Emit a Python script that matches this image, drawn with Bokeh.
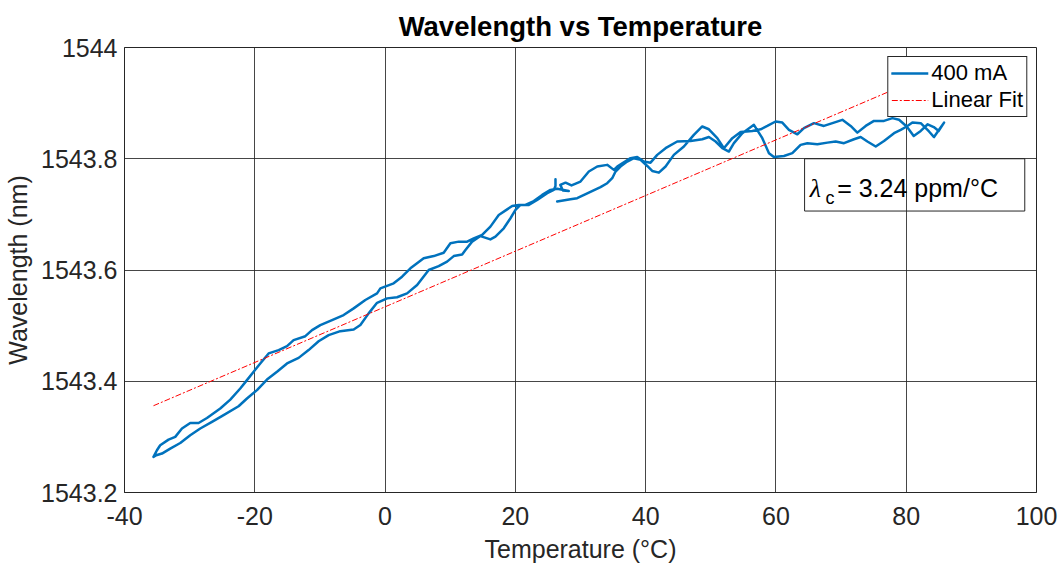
from bokeh.plotting import figure
from bokeh.models import Range1d, FixedTicker, Legend, LegendItem, BoxAnnotation, Label
from bokeh.embed import file_html
from bokeh.resources import INLINE

# ---- data (temperature in degC, wavelength in nm) ----
# first heating run (starts near 26 degC)
heat_T = [26.42, 28.46, 29.49, 31.28, 33.07, 34.10, 34.87, 35.38, 36.14, 37.17,
          38.19, 39.22, 40.25, 41.01, 42.03, 43.06, 44.33, 45.87, 47.40, 48.69,
          49.71, 51.00, 52.01, 53.30, 54.58, 56.38, 57.65, 58.68, 59.95, 60.98,
          62.00, 63.29, 64.30, 65.84, 67.37, 68.91, 70.20, 71.47, 72.50, 73.78,
          75.05, 76.59, 77.88, 78.90, 80.08, 81.15, 82.23, 83.30, 84.23, 84.99,
          85.81]
heat_wl = [1543.723, 1543.727, 1543.729, 1543.739, 1543.749, 1543.756, 1543.765, 1543.777, 1543.786, 1543.795,
           1543.801, 1543.798, 1543.787, 1543.778, 1543.775, 1543.786, 1543.807, 1543.822, 1543.843, 1543.858,
           1543.853, 1543.837, 1543.819, 1543.837, 1543.848, 1543.850, 1543.853, 1543.859, 1543.867, 1543.865,
           1543.852, 1543.844, 1543.855, 1543.864, 1543.859, 1543.865, 1543.870, 1543.859, 1543.847, 1543.859,
           1543.868, 1543.868, 1543.873, 1543.870, 1543.858, 1543.841, 1543.850, 1543.862, 1543.857, 1543.850,
           1543.865]
# cooling run down to -35 degC
cool_T = [85.04, 84.27, 83.50, 82.23, 80.95, 80.08, 79.15, 78.13, 76.59, 75.32,
          74.04, 73.01, 71.98, 70.45, 69.17, 67.90, 66.36, 64.82, 63.79, 62.52,
          61.23, 59.69, 58.93, 57.91, 56.62, 54.84, 53.55, 52.78, 51.77, 50.74,
          49.71, 48.69, 46.90, 44.85, 43.06, 41.78, 40.75, 39.72, 38.71, 37.68,
          36.41, 35.64, 35.12, 34.10, 32.57, 31.28, 30.00, 28.62, 27.70, 26.90,
          27.30, 28.20, 26.42, 25.39, 24.12, 22.83, 21.55, 20.52, 19.51, 18.74,
          17.45, 16.17, 14.90, 13.61, 12.60, 11.31, 10.03, 9.00, 7.47, 5.93,
          3.89, 2.61, 1.32, -0.72, -1.23, -3.03, -4.82, -6.36, -8.14, -9.94,
          -11.21, -12.24, -14.04, -15.05, -16.34, -17.88, -19.16, -20.18, -21.20, -22.23,
          -23.76, -25.30, -27.34, -28.63, -29.91, -31.18, -32.21, -33.24, -34.52, -35.02,
          -35.55]
cool_wl = [1543.852, 1543.839, 1543.849, 1543.864, 1543.865, 1543.858, 1543.852, 1543.846, 1543.832, 1543.822,
           1543.831, 1543.839, 1543.835, 1543.828, 1543.831, 1543.829, 1543.826, 1543.828, 1543.825, 1543.810,
           1543.805, 1543.803, 1543.810, 1543.837, 1543.861, 1543.846, 1543.828, 1543.813, 1543.819, 1543.831,
           1543.839, 1543.835, 1543.832, 1543.831, 1543.819, 1543.807, 1543.793, 1543.795, 1543.803, 1543.801,
           1543.792, 1543.786, 1543.780, 1543.789, 1543.786, 1543.777, 1543.759, 1543.752, 1543.757, 1543.753,
           1543.743, 1543.742, 1543.746, 1543.744, 1543.735, 1543.724, 1543.717, 1543.717, 1543.715, 1543.709,
           1543.699, 1543.678, 1543.663, 1543.657, 1543.651, 1543.651, 1543.648, 1543.631, 1543.625, 1543.621,
           1543.603, 1543.588, 1543.576, 1543.567, 1543.558, 1543.546, 1543.531, 1543.519, 1543.510, 1543.501,
           1543.492, 1543.481, 1543.474, 1543.463, 1543.456, 1543.450, 1543.432, 1543.417, 1543.402, 1543.387,
           1543.367, 1543.351, 1543.334, 1543.325, 1543.325, 1543.315, 1543.300, 1543.295, 1543.285, 1543.276,
           1543.264]
# second heating run back to ~26 degC
reheat_T = [-35.13, -34.25, -32.98, -31.44, -29.91, -28.37, -26.57, -24.79, -22.49, -21.20,
            -19.66, -18.13, -16.59, -15.05, -13.27, -11.74, -10.20, -8.66, -6.87, -4.82,
            -3.79, -2.52, -1.23, 0.31, 1.84, 3.38, 4.92, 6.70, 8.23, 9.52,
            10.54, 11.83, 12.34, 13.36, 14.64, 16.17, 16.94, 18.22, 19.25, 20.02,
            20.78, 22.06, 23.35, 24.89, 25.90, 26.16, 26.16]
reheat_wl = [1543.267, 1543.270, 1543.279, 1543.289, 1543.303, 1543.315, 1543.327, 1543.339, 1543.355, 1543.369,
             1543.384, 1543.403, 1543.417, 1543.432, 1543.442, 1543.456, 1543.472, 1543.483, 1543.490, 1543.493,
             1543.501, 1543.522, 1543.541, 1543.549, 1543.551, 1543.558, 1543.573, 1543.600, 1543.607, 1543.615,
             1543.625, 1543.628, 1543.636, 1543.651, 1543.661, 1543.655, 1543.660, 1543.675, 1543.693, 1543.708,
             1543.717, 1543.717, 1543.726, 1543.738, 1543.744, 1543.751, 1543.763]

temperature = heat_T + cool_T + reheat_T
wavelength = heat_wl + cool_wl + reheat_wl

# linear fit end points
fit_T = [-35.55, 85.81]
fit_wl = [1543.356, 1543.963]

x_ticks = [-40, -20, 0, 20, 40, 60, 80, 100]
x_tick_labels = ["-40", "-20", "0", "20", "40", "60", "80", "100"]
y_ticks = [1543.2, 1543.4, 1543.6, 1543.8, 1544.0]
y_tick_labels = ["1543.2", "1543.4", "1543.6", "1543.8", "1544"]

series_label = "400 mA"
fit_label = "Linear Fit"
coeff_text = "= 3.24 ppm/°C"

FONT = "Liberation Sans"
INK = "#262626"

p = figure(width=1064, height=565, output_backend="svg", toolbar_location=None,
           x_range=Range1d(-40, 100), y_range=Range1d(1543.2, 1544.0),
           min_border_left=124, min_border_right=28, min_border_top=47, min_border_bottom=73)
p.background_fill_color = "white"
p.border_fill_color = "white"
p.outline_line_color = INK
p.outline_line_width = 1
p.outline_line_alpha = 1

p.title.text = "Wavelength vs Temperature"
p.title.text_font = FONT
p.title.text_font_size = "27.5px"
p.title.text_font_style = "bold"
p.title.text_color = "black"
p.title.align = "center"
p.title.standoff = 12

p.xaxis.ticker = FixedTicker(ticks=x_ticks)
p.yaxis.ticker = FixedTicker(ticks=y_ticks)
p.xaxis.major_label_overrides = {t: s for t, s in zip(x_ticks, x_tick_labels)}
p.yaxis.major_label_overrides = {t: s for t, s in zip(y_ticks, y_tick_labels)}
for ax in (p.xaxis[0], p.yaxis[0]):
    ax.axis_line_color = INK
    ax.major_tick_line_color = INK
    ax.major_tick_in = 0
    ax.major_tick_out = 0
    ax.minor_tick_line_color = None
    ax.major_label_text_font = FONT
    ax.major_label_text_font_size = "25px"
    ax.major_label_text_color = INK
    ax.axis_label_text_font = FONT
    ax.axis_label_text_font_size = "25px"
    ax.axis_label_text_font_style = "normal"
    ax.axis_label_text_color = INK
p.xaxis.axis_label = "Temperature (°C)"
p.yaxis.axis_label = "Wavelength (nm)"
p.xaxis.major_label_standoff = 14
p.yaxis.major_label_standoff = 7
p.xaxis.axis_label_standoff = 7
p.yaxis.axis_label_standoff = 6

for g in (p.xgrid[0], p.ygrid[0]):
    g.grid_line_color = INK
    g.grid_line_alpha = 0.85
    g.grid_line_width = 1

data_r = p.line(temperature, wavelength, line_color="#0072BD", line_width=2.5,
                line_join="round", line_cap="round")
fit_r = p.line(fit_T, fit_wl, line_color="#ff0000", line_width=1, line_dash="6 2 2 2")

legend = Legend(items=[LegendItem(label=series_label, renderers=[data_r]),
                       LegendItem(label=fit_label, renderers=[fit_r])],
                location="top_right", margin=9, padding=3, spacing=1,
                label_height=26, glyph_height=26, glyph_width=37, label_standoff=3,
                label_text_font=FONT, label_text_font_size="22px", label_text_color="black",
                border_line_color=INK, border_line_width=1, border_line_alpha=1,
                background_fill_color="white", background_fill_alpha=1)
p.add_layout(legend)

box = BoxAnnotation(left=64.4, right=98.2, bottom=1543.706, top=1543.800,
                    fill_alpha=0, line_color=INK, line_width=1, line_alpha=1)
p.add_layout(box)
p.add_layout(Label(x=65.2, y=1543.747, text="λ", text_font="Liberation Serif",
                   text_font_style="italic", text_font_size="26px", text_color="black",
                   text_baseline="alphabetic"))
p.add_layout(Label(x=67.6, y=1543.729, text="c", text_font=FONT,
                   text_font_size="18px", text_color="black", text_baseline="alphabetic"))
p.add_layout(Label(x=69.4, y=1543.747, text=coeff_text, text_font=FONT,
                   text_font_size="25px", text_color="black", text_baseline="alphabetic"))

open("out.html", "w").write(file_html(p, INLINE))
